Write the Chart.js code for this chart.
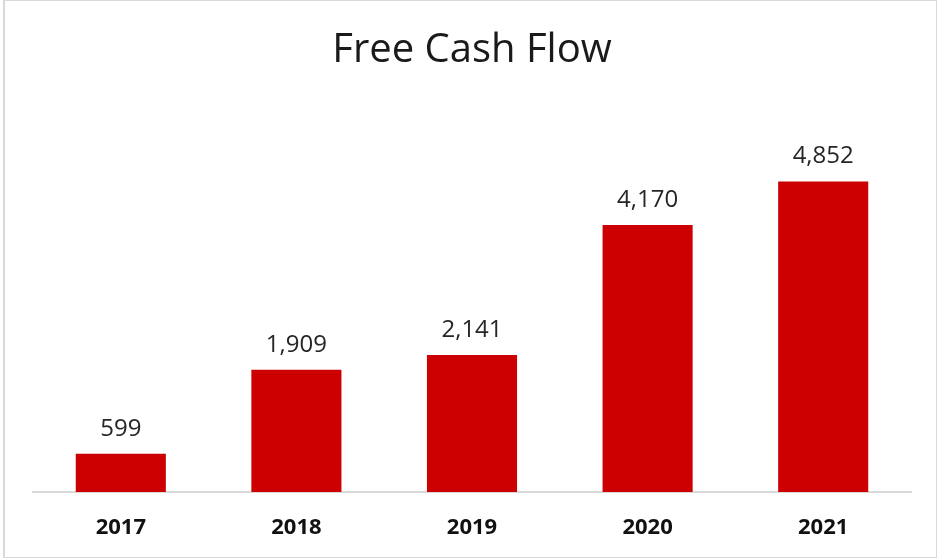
<!DOCTYPE html>
<html>
<head>
<meta charset="utf-8">
<script src="https://cdn.jsdelivr.net/npm/chart.js@4"></script>
<style>
  html, body { margin: 0; padding: 0; background: #ffffff; }
  #frame { position: absolute; left: 3px; top: 0px; width: 934px; height: 558px;
           border: 1px solid #d9d9d9; border-left: 2px solid #d9d9d9; box-sizing: border-box; }
  #wrap { position: absolute; left: 0; top: 0; width: 940px; height: 560px; }
</style>
</head>
<body>
<div id="frame"></div>
<div id="wrap"><canvas id="c" width="940" height="560"></canvas></div>
<script>
const categories = ["2017", "2018", "2019", "2020", "2021"];
const freeCashFlow = [599, 1909, 2141, 4170, 4852];
const chartTitle = "Free Cash Flow";

const barLabels = {
  id: 'barLabels',
  afterDatasetsDraw(chart) {
    const ctx = chart.ctx;
    const meta = chart.getDatasetMeta(0);
    const data = chart.data.datasets[0].data;
    ctx.save();
    ctx.font = '24px "Open Sans"';
    ctx.fillStyle = '#262626';
    ctx.textAlign = 'center';
    ctx.textBaseline = 'alphabetic';
    meta.data.forEach((bar, i) => {
      ctx.fillText(data[i].toLocaleString('en-US'), bar.x, bar.y - 18);
    });
    ctx.restore();
  }
};

new Chart(document.getElementById('c'), {
  type: 'bar',
  data: {
    labels: categories,
    datasets: [{
      data: freeCashFlow,
      backgroundColor: '#cc0000',
      borderWidth: 0,
      barPercentage: 0.513,
      categoryPercentage: 1.0
    }]
  },
  options: {
    responsive: false,
    animation: false,
    devicePixelRatio: 1,
    layout: { padding: { left: 33, right: 29, top: 0, bottom: -4 } },
    plugins: {
      legend: { display: false },
      tooltip: { enabled: false },
      title: {
        display: true,
        text: chartTitle,
        color: '#1a1a1a',
        font: { family: '"Open Sans"', size: 40, weight: 'normal', lineHeight: 1.2 },
        padding: { top: 27, bottom: 33 }
      }
    },
    scales: {
      x: {
        grid: { display: false, drawTicks: false },
        border: { display: true, color: '#d9d9d9', width: 2 },
        ticks: {
          color: '#111111',
          padding: 25,
          font: { family: '"Open Sans"', size: 22, weight: 'bold', lineHeight: 1.0 }
        }
      },
      y: {
        display: false,
        min: 0,
        max: 6000
      }
    }
  },
  plugins: [barLabels]
});
</script>
</body>
</html>
